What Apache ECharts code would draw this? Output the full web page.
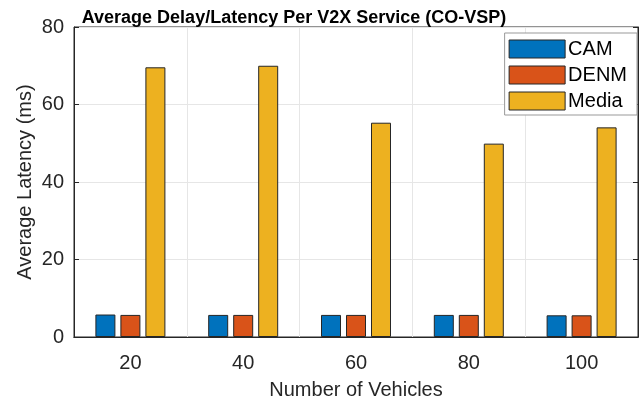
<!DOCTYPE html>
<html>
<head>
<meta charset="utf-8">
<script src="https://cdn.jsdelivr.net/npm/echarts@6/dist/echarts.min.js"></script>
<style>
    html, body { margin: 0; padding: 0; background: #fff; }
    #c1 { width: 644px; height: 405px; }
</style>
</head>
<body>
<div id="c1"></div>
<script>
    // 车辆数
    var vehicles = ['20', '40', '60', '80', '100'];
    // 各业务平均时延 (ms)
    var camDelay = [5.8, 5.7, 5.7, 5.7, 5.6];
    var denmDelay = [5.7, 5.7, 5.7, 5.7, 5.6];
    var mediaDelay = [69.6, 70.0, 55.3, 49.9, 54.1];
    var yTicks = [0, 20, 40, 60, 80];

    var font = '"Liberation Sans", Arial, Helvetica, sans-serif';
    var ink = '#262626';

    var chart = echarts.init(document.getElementById('c1'));

    function barSeries(name, data, color) {
        return {
            name: name,
            type: 'bar',
            data: data,
            barWidth: 20,
            barGap: '25%',
            itemStyle: {color: color, borderColor: ink, borderWidth: 1},
            emphasis: {disabled: true}
        };
    }

    var option = {
        animation: false,
        textStyle: {fontFamily: font, color: ink},
        title: {
            text: 'Average Delay/Latency Per V2X Service (CO-VSP)',
            left: 289,
            textAlign: 'center',
            top: 4,
            textStyle: {fontFamily: font, fontSize: 18, fontWeight: 'bold', color: '#000'}
        },
        legend: {
            orient: 'vertical',
            right: 7,
            top: 33,
            icon: 'rect',
            itemWidth: 56,
            itemHeight: 18,
            itemGap: 6,
            padding: [6, 10, 4, 4],
            borderColor: '#999',
            borderWidth: 1,
            backgroundColor: '#fff',
            itemStyle: {borderColor: ink, borderWidth: 1},
            textStyle: {fontFamily: font, fontSize: 20, color: '#000', padding: [0, 0, 0, -2]},
            data: ['CAM', 'DENM', 'Media']
        },
        grid: {
            left: 74,
            right: 6,
            top: 27,
            bottom: 63,
            show: true,
            borderColor: ink,
            borderWidth: 1
        },
        xAxis: [{
            type: 'category',
            data: vehicles,
            name: 'Number of Vehicles',
            nameLocation: 'middle',
            nameGap: 43,
            nameTextStyle: {fontFamily: font, fontSize: 20, color: ink},
            axisLine: {lineStyle: {color: ink}},
            axisTick: {alignWithLabel: true, inside: true, length: 5, lineStyle: {color: ink}},
            axisLabel: {fontFamily: font, fontSize: 20, color: ink, margin: 16},
            splitLine: {show: true, interval: 0, lineStyle: {color: '#e6e6e6'}}
        }, {
            type: 'category',
            data: vehicles,
            position: 'top',
            axisLine: {lineStyle: {color: ink}},
            axisTick: {alignWithLabel: true, inside: true, length: 5, lineStyle: {color: ink}},
            axisLabel: {show: false}
        }],
        yAxis: [{
            type: 'value',
            min: 0,
            max: 80,
            interval: 20,
            name: 'Average Latency (ms)',
            nameLocation: 'middle',
            nameGap: 39,
            nameMoveOverlap: false,
            nameTextStyle: {fontFamily: font, fontSize: 20, color: ink},
            axisLine: {show: true, lineStyle: {color: ink}},
            axisTick: {show: true, inside: true, length: 5, lineStyle: {color: ink}},
            axisLabel: {
                fontFamily: font, fontSize: 20, color: ink, margin: 10,
                formatter: function (v) { return yTicks.indexOf(v) >= 0 ? String(v) : ''; }
            },
            splitLine: {show: true, lineStyle: {color: '#e6e6e6'}}
        }, {
            type: 'value',
            min: 0,
            max: 80,
            interval: 20,
            position: 'right',
            axisLine: {show: true, lineStyle: {color: ink}},
            axisTick: {show: true, inside: true, length: 5, lineStyle: {color: ink}},
            axisLabel: {show: false},
            splitLine: {show: false}
        }],
        series: [
            barSeries('CAM', camDelay, '#0072BD'),
            barSeries('DENM', denmDelay, '#D95319'),
            barSeries('Media', mediaDelay, '#EDB120')
        ]
    };

    chart.setOption(option);
</script>
</body>
</html>
